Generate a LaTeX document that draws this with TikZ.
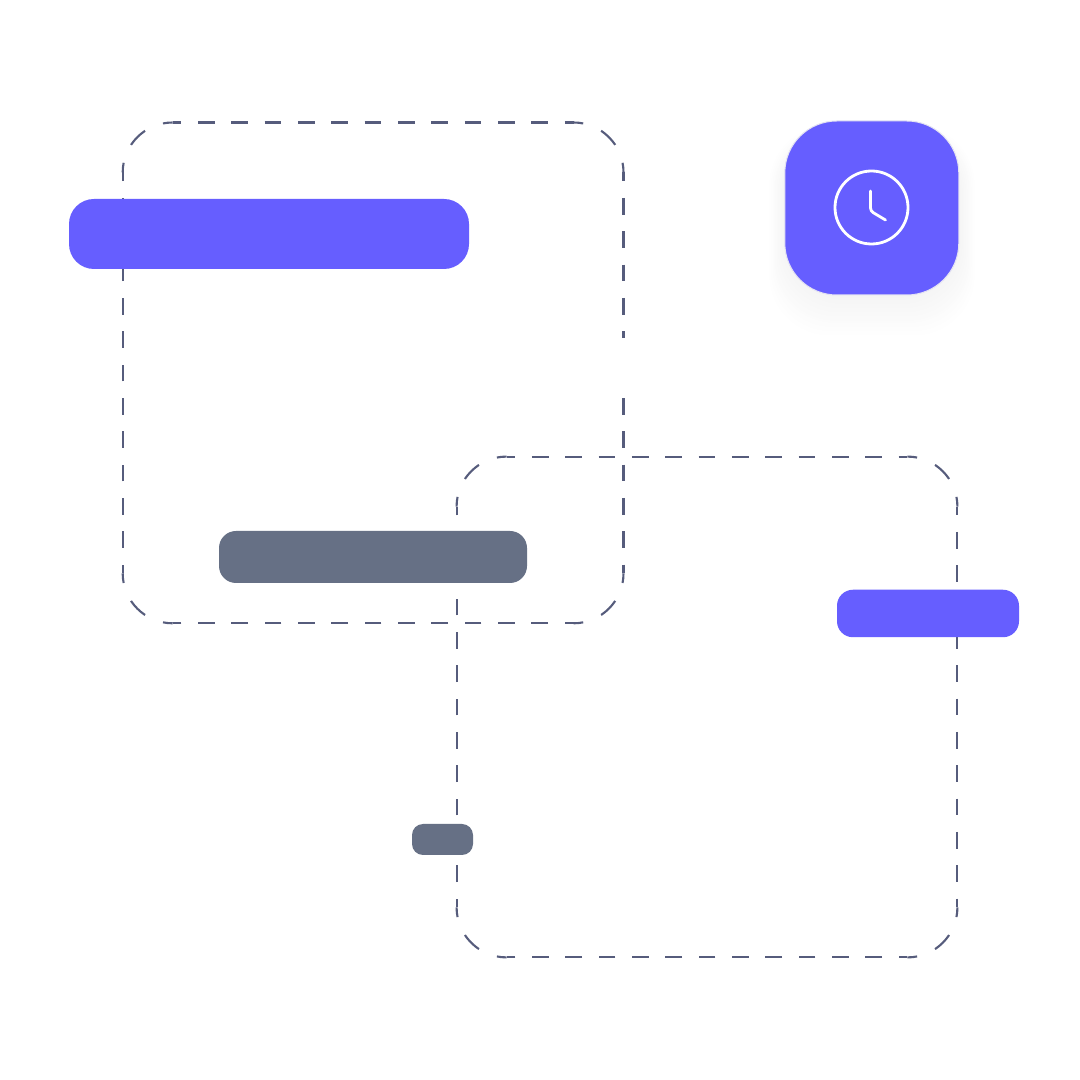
\documentclass[tikz,border=0pt]{standalone}
\definecolor{brandviolet}{HTML}{665EFF}
\definecolor{slatebar}{HTML}{667085}
\definecolor{dashink}{HTML}{565C7C}
\definecolor{cardedge}{HTML}{E4E3F2}
\tikzset{
  x=1pt,y=1pt,
  bar/.style={fill=#1,draw=none,inner sep=0pt,outer sep=0pt},
  framedash/.style={draw=dashink,line width=2.1pt,line cap=butt},
  clockline/.style={draw=white,line width=2.8pt,line cap=round,line join=round},
}
\newcommand{\dashframe}[2]{%
  \foreach \turn in {0,90,180,270}{
    \begin{scope}[shift={(#1,#2)},rotate=\turn]
      \draw[framedash,dash pattern=on 16.67pt off 16.67pt,dash phase=8pt]
        (-200.4,250.4) -- (200.4,250.4);
      \draw[framedash,dash pattern=on 20pt off 19.5pt,dash phase=10.25pt]
        (200.4,250.4) arc[start angle=90,end angle=0,radius=50pt];
    \end{scope}
  }%
}
\begin{document}
\begin{tikzpicture}
  \useasboundingbox[fill=white] (0,0) rectangle (1080,1080);
  % dashed frames
  \dashframe{373.1}{707.1}
  \dashframe{707}{373}
  % gap in the right side of the first frame
  \fill[white] (618,682) rectangle (629,742);
  % card shadow: graded near-white layers, outermost first
  \foreach \g in {20,19,...,0}{
    \pgfmathsetmacro{\shade}{(20-\g)*0.22}
    \fill[black!\shade!white,rounded corners=60pt]
      (785-\g*0.8,785-\g*2.1) rectangle (959+\g*0.8,945+\g*0.5);
  }
  % card
  \node[bar=brandviolet,draw=cardedge,line width=1pt,rounded corners=52pt,
        minimum width=174pt,minimum height=174pt] (card) at (871.8,872) {};
  \node[circle,draw=white,line width=2.8pt,inner sep=0pt,outer sep=0pt,
        minimum size=73pt] (clockface) at (871.5,872.5) {};
  \coordinate (handtop) at (870.5,889);
  \coordinate (handpivot) at (870.5,869);
  \coordinate (handtip) at (885.5,860);
  \draw[clockline,rounded corners=3pt] (handtop) -- (handpivot) -- (handtip);
  % bars
  \node[bar=brandviolet,rounded corners=25pt,minimum width=400pt,minimum height=70pt] (barA) at (269,846) {};
  \node[bar=slatebar,rounded corners=17pt,minimum width=308pt,minimum height=52pt] (barB) at (373,523) {};
  \node[bar=brandviolet,rounded corners=16pt,minimum width=182pt,minimum height=47.5pt] (barC) at (928,466.5) {};
  \node[bar=slatebar,rounded corners=11pt,minimum width=61pt,minimum height=31pt] (barD) at (442.5,240.5) {};
\end{tikzpicture}
\end{document}
